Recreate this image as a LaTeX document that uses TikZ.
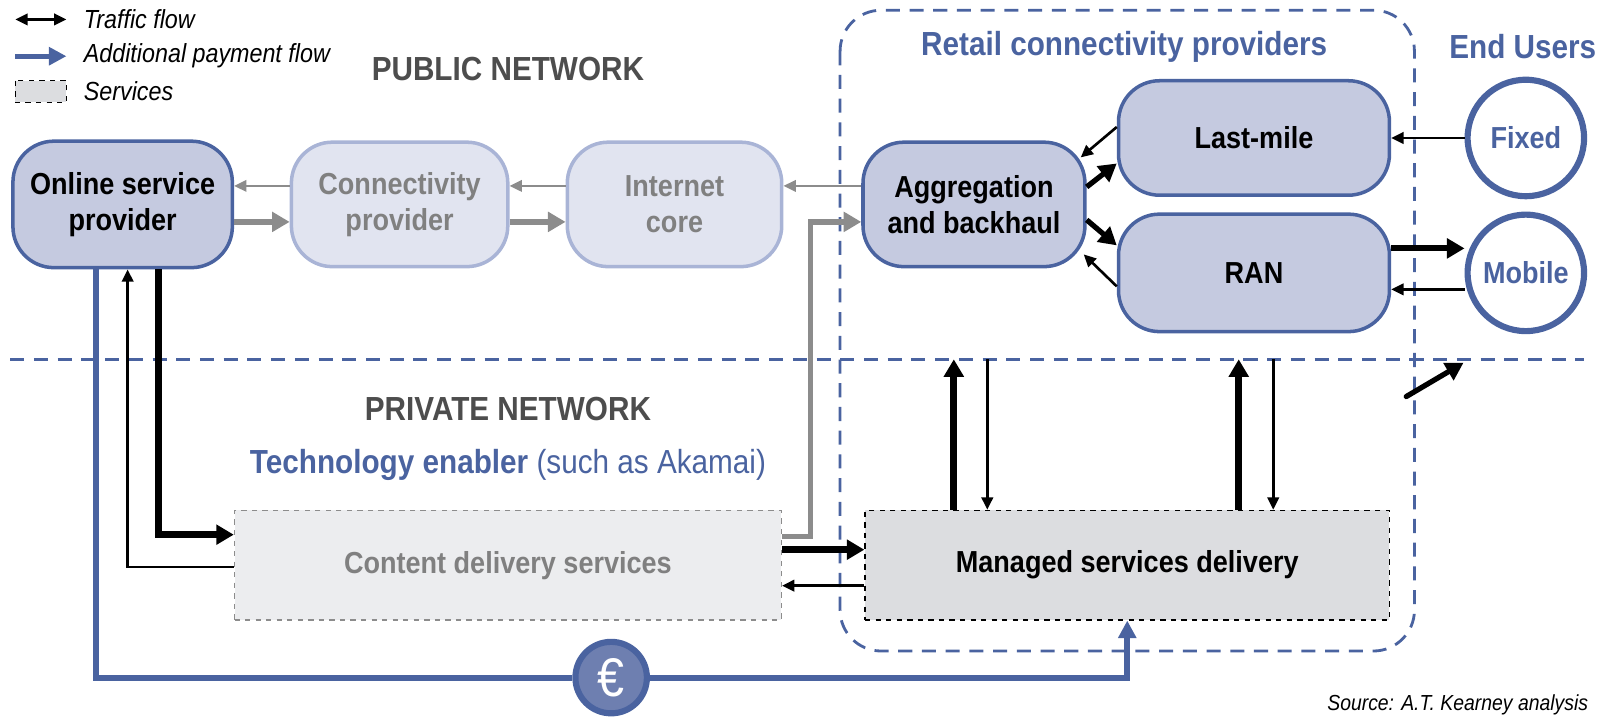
\documentclass[tikz,border=0pt]{standalone}
\usepackage{fontspec}
\setmainfont[FakeStretch=0.89]{Liberation Sans}
\usetikzlibrary{arrows.meta,positioning,shapes.misc}
\definecolor{ktblue}{RGB}{74,99,160}
\definecolor{boxfill}{RGB}{197,202,224}
\definecolor{palefill}{RGB}{225,228,240}
\definecolor{paleline}{RGB}{169,180,214}
\definecolor{arrowgrey}{RGB}{140,140,140}
\definecolor{textgrey}{RGB}{128,128,128}
\definecolor{headgrey}{RGB}{77,77,77}
\definecolor{cdsfill}{RGB}{236,237,239}
\definecolor{msdfill}{RGB}{220,221,224}
\definecolor{eurofill}{RGB}{110,127,176}
\newcommand{\labfont}{\bfseries\fontsize{17.3}{20.5}\selectfont}

\begin{document}
\begin{tikzpicture}[x=0.02044cm,y=-0.02044cm,
  keybox/.style={rectangle, rounded corners=0.82cm, draw=ktblue, line width=2pt, fill=boxfill,
    font=\labfont, align=center, minimum height=2.49cm},
  palebox/.style={keybox, draw=paleline, fill=palefill, text=textgrey},
  userdisc/.style={circle, draw=ktblue, line width=3.5pt, fill=white, text=ktblue,
    font=\labfont, minimum size=2.33cm, inner sep=0pt},
  service/.style={rectangle, draw, dashed, line width=0.8pt, font=\labfont, minimum height=2.19cm},
  heading/.style={font=\bfseries\fontsize{19}{22}\selectfont},
  legendtext/.style={font=\itshape\fontsize{14.9}{17}\selectfont, anchor=west},
  bigflow/.style={line width=4pt, -{Triangle[length=10pt,width=11pt]}},
  smallflow/.style={line width=1.5pt, -{Triangle[length=7pt,width=6.5pt]}},
  greybig/.style={bigflow, draw=arrowgrey, line width=3pt},
  greysmall/.style={smallflow, draw=arrowgrey, line width=1.2pt},
  payflow/.style={line width=3.5pt, draw=ktblue, -{Triangle[length=10pt,width=10pt]}},
  divider/.style={draw=ktblue, line width=1.6pt, dash pattern=on 8pt off 5.5pt}]
\useasboundingbox (0,0) rectangle (1568.5,706.4);

% legend
\coordinate (tf0) at (15,19);
\coordinate (tf1) at (65,19);
\draw[smallflow, {Triangle[length=7pt,width=6.5pt]}-{Triangle[length=7pt,width=6.5pt]}] (tf0) -- (tf1);
\node[legendtext] (tflabel) at (76,19) {Traffic flow};
\coordinate (pf0) at (15,55);
\coordinate (pf1) at (65,55);
\draw[payflow, line width=3pt] (pf0) -- (pf1);
\node[legendtext] (pflabel) at (76,55) {Additional payment flow};
\draw[dashed, line width=0.8pt, fill=msdfill] (15,79) rectangle (65,100);
\node[legendtext] (svlabel) at (76,89) {Services};

% regions
\draw[divider, rounded corners=0.82cm] (822,10) rectangle (1384,637);
\draw[divider] (10,352) -- (1550,352);
\node[heading, text=headgrey] (public) at (497,68) {PUBLIC NETWORK};
\node[heading, text=headgrey] (private) at (497,400) {PRIVATE NETWORK};
\node[heading, text=ktblue] (retail) at (1100,46) {Retail connectivity providers};
\node[heading, text=ktblue] (endusers) at (1490,46) {End Users};
\node[heading, text=ktblue] (enabler) at (497,455) {Technology enabler \mdseries(such as Akamai)};

% public network
\node[keybox, minimum width=4.39cm, minimum height=2.53cm] (osp) at (120,200) {Online service\\provider};
\node[palebox, minimum width=4.33cm] (conn) at (391,200) {Connectivity\\provider};
\node[palebox, minimum width=4.29cm] (core) at (660,200) {Internet\\core};
\node[keybox, minimum width=4.44cm] (aggr) at (953,200) {Aggregation\\and backhaul};
\node[keybox, minimum width=5.42cm, minimum height=2.29cm] (lastmile) at (1227,135) {Last-mile};
\node[keybox, minimum width=5.42cm, minimum height=2.35cm] (ran) at (1227,267) {RAN};
\node[userdisc] (fixed) at (1493,135) {Fixed};
\node[userdisc] (mobile) at (1493,267) {Mobile};

% private network
\node[service, draw=arrowgrey, fill=cdsfill, text=textgrey, minimum width=10.94cm] (cds) at (497,553) {Content delivery services};
\node[service, fill=msdfill, minimum width=10.49cm] (msd) at (1103,553) {Managed services delivery};
\node[circle, draw=ktblue, line width=3.5pt, fill=eurofill, text=white, minimum size=1.43cm,
  font=\fontsize{31}{31}\selectfont] (euro) at (598,663) {€};

% grey traffic
\draw[greysmall] ([yshift=0.37cm]conn.west) -- ([yshift=0.37cm]osp.east);
\draw[greybig] ([yshift=-0.35cm]osp.east) -- ([yshift=-0.35cm]conn.west);
\draw[greysmall] ([yshift=0.37cm]core.west) -- ([yshift=0.37cm]conn.east);
\draw[greybig] ([yshift=-0.35cm]conn.east) -- ([yshift=-0.35cm]core.west);
\draw[greysmall] ([yshift=0.37cm]aggr.west) -- ([yshift=0.37cm]core.east);
\draw[greybig] ([yshift=0.57cm]cds.east) -- ++(0.57cm,0) |- ([yshift=-0.35cm]aggr.west);

% black traffic
\draw[bigflow] ([xshift=0.715cm]osp.south) |- ([yshift=0.61cm]cds.west);
\draw[smallflow] ([yshift=-0.04cm]cds.west) -| ([xshift=0.1cm]osp.south);
\draw[bigflow] ([yshift=0.31cm]cds.east) -- ([yshift=0.31cm]msd.west);
\draw[smallflow] ([yshift=-0.41cm]msd.west) -- ([yshift=-0.41cm]cds.east);
\draw[smallflow] ([yshift=0.22cm]lastmile.west) -- ([xshift=-0.12cm,yshift=0.94cm]aggr.east);
\draw[bigflow, line width=3pt] ([yshift=0.35cm]aggr.east) -- ([yshift=-0.51cm]lastmile.west);
\draw[bigflow, line width=3pt] ([yshift=-0.31cm]aggr.east) -- ([yshift=0.55cm]ran.west);
\draw[smallflow] ([yshift=-0.27cm]ran.west) -- ([xshift=-0.06cm,yshift=-1cm]aggr.east);
\draw[smallflow] (fixed) -- (lastmile.east |- fixed);
\draw[bigflow, line width=3.5pt] ([yshift=0.49cm]ran.east) -- ([yshift=0.49cm]ran.east -| mobile.west);
\draw[smallflow] ([yshift=-0.33cm]ran.east -| mobile.west) -- ([yshift=-0.33cm]ran.east);
\draw[bigflow] ([xshift=-3.47cm]msd.north) -- ++(0,3.01cm);
\draw[smallflow] ([xshift=-2.8cm]msd.north) ++(0,3.01cm) -- ([xshift=-2.8cm]msd.north);
\draw[bigflow] ([xshift=2.23cm]msd.north) -- ++(0,3.01cm);
\draw[smallflow] ([xshift=2.92cm]msd.north) ++(0,3.01cm) -- ([xshift=2.92cm]msd.north);
\draw[bigflow, line width=3pt, line cap=round] (1376,388) -- (1432,355);

% payment
\draw[payflow, -] ([xshift=-0.53cm]osp.south) |- (euro);
\draw[payflow] (euro) -| (msd.south);

\node[font=\itshape\fontsize{12.4}{15}\selectfont, anchor=east] (source) at (1560,690) {Source: A.T. Kearney analysis};
\end{tikzpicture}
\end{document}
